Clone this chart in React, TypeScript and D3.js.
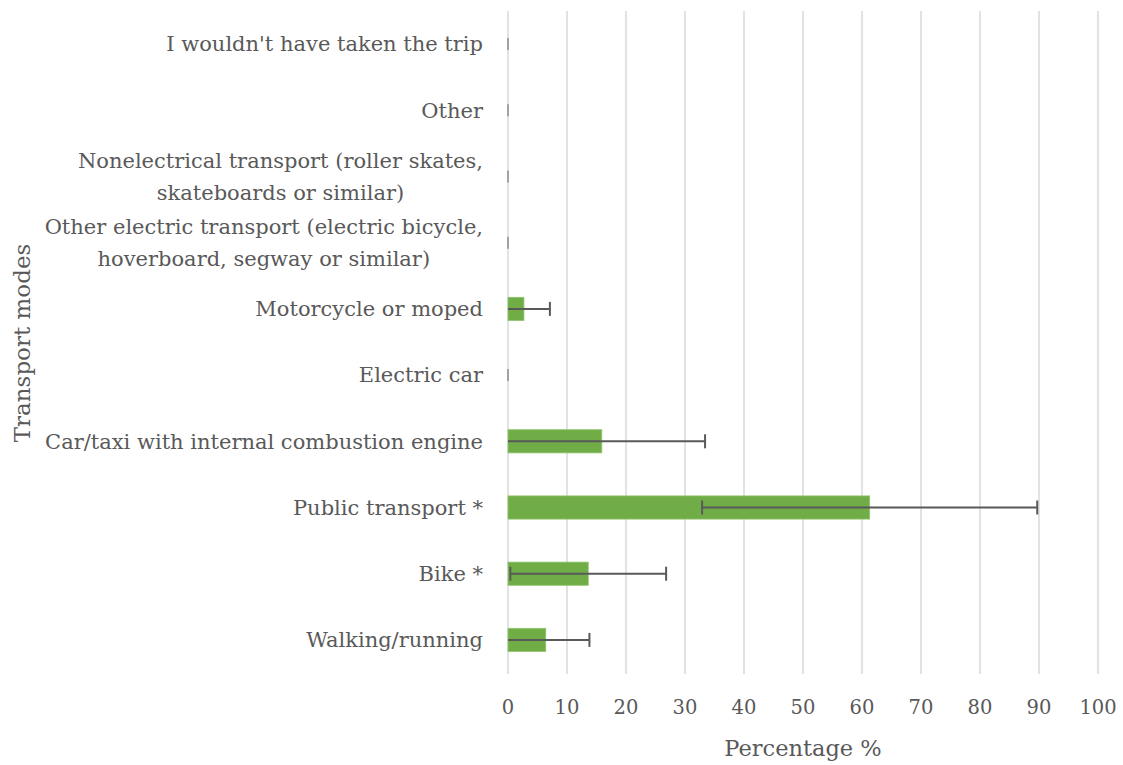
import React, { useEffect, useRef } from "react";
import * as d3 from "d3";

const categories: string[][] = [
  ["I wouldn't have taken the trip"],
  ["Other"],
  ["Nonelectrical transport (roller skates,", "skateboards or similar)"],
  ["Other electric transport (electric bicycle,", "hoverboard, segway or similar)"],
  ["Motorcycle or moped"],
  ["Electric car"],
  ["Car/taxi with internal combustion engine"],
  ["Public transport *"],
  ["Bike *"],
  ["Walking/running"],
];
const values: number[] = [0, 0, 0, 0, 2.7, 0, 15.9, 61.3, 13.6, 6.4];
const errors: number[] = [0, 0, 0, 0, 4.4, 0, 17.5, 28.4, 13.2, 7.4];
const xTicks: number[] = [0, 10, 20, 30, 40, 50, 60, 70, 80, 90, 100];

const W = 1123;
const H = 765;
const FONT = "'DejaVu Serif', serif";
const TEXT = "#595959";

export default function App() {
  const ref = useRef<SVGSVGElement>(null);
  useEffect(() => {
    const svg = d3.select(ref.current);
    svg.selectAll("*").remove();
    const x = d3.scaleLinear().domain([0, 100]).range([508, 1098]);
    const ids = categories.map((_, i) => String(i));
    const y = d3.scaleBand().domain(ids).range([11, 673]).paddingInner(0.65).paddingOuter(0.325);
    const bw = y.bandwidth();

    // gridlines
    svg.append("g").selectAll("line").data(xTicks).join("line")
      .attr("x1", (d) => x(d)).attr("x2", (d) => x(d))
      .attr("y1", 11).attr("y2", 674)
      .attr("stroke", "#d9d9d9").attr("stroke-width", 1.5);

    // bars
    svg.append("g").selectAll("rect").data(values).join("rect")
      .attr("x", x(0))
      .attr("y", (_, i) => y(String(i))!)
      .attr("width", (d) => x(d) - x(0))
      .attr("height", bw)
      .attr("fill", "#70ad47")
      .attr("stroke", (d) => (d > 0 ? "#8fc46d" : "none"))
      .attr("stroke-width", 0.8);

    // error bars
    const eg = svg.append("g").attr("stroke", "#595959").attr("stroke-width", 2);
    values.forEach((v, i) => {
      const cy = y(String(i))! + bw / 2;
      const lo = v - errors[i];
      const hi = v + errors[i];
      const loC = Math.max(0, lo);
      const cap = errors[i] > 0 ? 7 : 6;
      eg.append("line").attr("x1", x(loC)).attr("x2", x(hi)).attr("y1", cy).attr("y2", cy);
      eg.append("line").attr("x1", x(hi)).attr("x2", x(hi)).attr("y1", cy - cap).attr("y2", cy + cap)
        .attr("stroke", errors[i] > 0 ? null : "#8c8c8c").attr("stroke-width", errors[i] > 0 ? null : 1.5);
      if (lo >= 0 && errors[i] > 0) {
        eg.append("line").attr("x1", x(lo)).attr("x2", x(lo)).attr("y1", cy - cap).attr("y2", cy + cap);
      }
    });

    // category labels
    const lg = svg.append("g").attr("font-family", FONT).attr("font-size", 21).attr("fill", TEXT);
    categories.forEach((lines, i) => {
      const cy = y(String(i))! + bw / 2;
      const lh = 32;
      const g = lg.append("g");
      const texts = lines.map((ln, k) =>
        g.append("text")
          .attr("y", cy + (k - (lines.length - 1) / 2) * lh)
          .attr("dy", "0.35em")
          .attr("text-anchor", "middle")
          .text(ln)
      );
      const maxW = d3.max(texts, (t) => (t.node() as SVGTextElement).getComputedTextLength()) || 0;
      texts.forEach((t) => t.attr("x", 483 - maxW / 2));
    });

    // x tick labels
    svg.append("g").selectAll("text").data(xTicks).join("text")
      .attr("x", (d) => x(d)).attr("y", 707).attr("dy", "0.35em")
      .attr("text-anchor", "middle")
      .attr("font-family", FONT).attr("font-size", 19.5).attr("fill", TEXT)
      .text((d) => String(d));

    // axis titles
    svg.append("text")
      .attr("x", (x(0) + x(100)) / 2).attr("y", 748).attr("dy", "0.35em")
      .attr("text-anchor", "middle")
      .attr("font-family", FONT).attr("font-size", 22.5).attr("fill", TEXT)
      .text("Percentage %");
    svg.append("text")
      .attr("transform", `translate(22,343) rotate(-90)`)
      .attr("dy", "0.35em")
      .attr("text-anchor", "middle")
      .attr("font-family", FONT).attr("font-size", 23).attr("fill", TEXT)
      .text("Transport modes");
  }, []);
  return (
    <svg ref={ref} width={W} height={H} style={{ position: "absolute", left: 0, top: 0, background: "#fff" }} />
  );
}
